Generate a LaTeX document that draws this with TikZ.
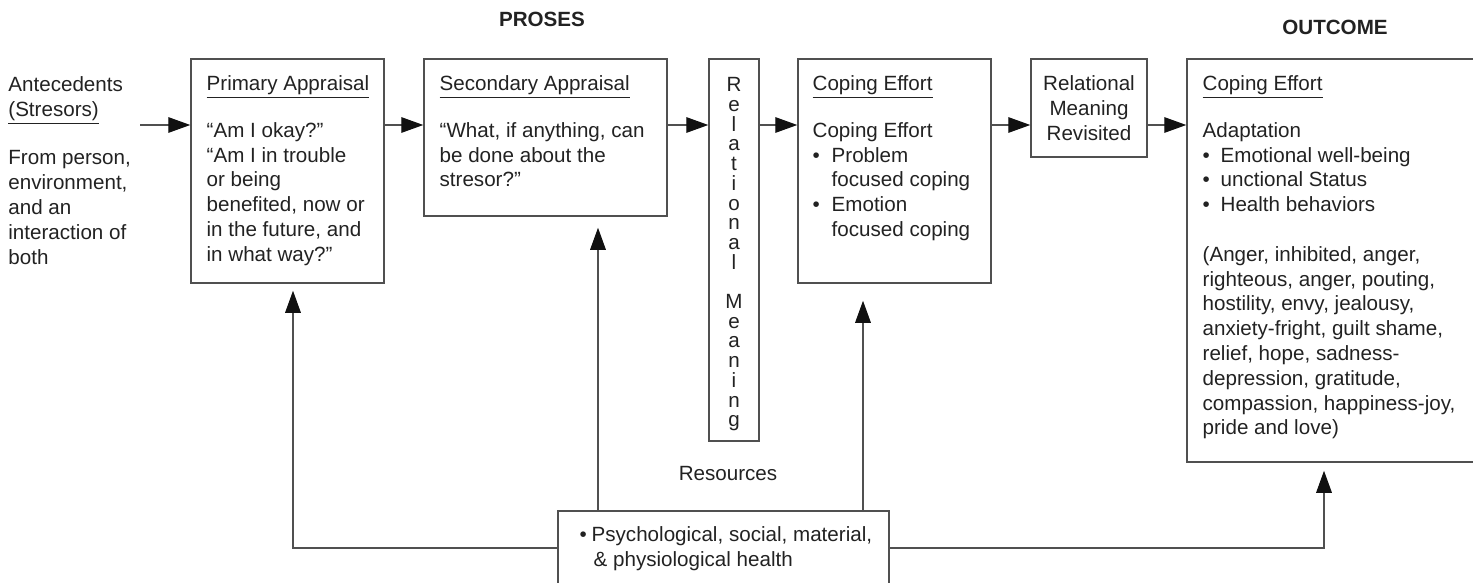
\documentclass[tikz,border=0pt]{standalone}
\usepackage{fontspec}
\setmainfont{Liberation Sans}
\usepackage{tikz}
\usetikzlibrary{arrows.meta, positioning, calc, fit}

\definecolor{inkgray}{HTML}{222222}
\definecolor{linegray}{HTML}{505050}
\definecolor{tipgray}{HTML}{111111}

\newcommand{\bulpt}[1][9pt]{\makebox[#1][l]{\textbullet}}

\begin{document}
\begin{tikzpicture}[x=0.5pt, y=-0.5pt,
    font=\fontsize{10.3}{12.4}\selectfont, text=inkgray,
    box/.style={draw=linegray, line width=0.75pt, inner sep=0pt},
    txt/.style={anchor=north west, inner sep=0pt, align=left},
    conn/.style={draw=linegray, line width=0.6pt, -{Triangle[length=11pt, width=7.8pt, color=tipgray]}},
    head/.style={anchor=base, inner sep=0pt, font=\fontsize{10.3}{12.4}\selectfont\bfseries}]
  \useasboundingbox (0,0) rectangle (1473,583);

  % Headings
  \node[head] (proses) at (542,27) {PROSES};
  \node[head] (outcome) at (1335,35) {OUTCOME};

  % Boxes
  \node[box, fit={(191,59) (384,283)}] (prim) {};
  \node[box, fit={(424,59) (667,216)}] (sec) {};
  \node[box, fit={(709,59) (759,441)}] (relm) {};
  \node[box, fit={(798,59) (991,283)}] (cope) {};
  \node[box, fit={(1031,59) (1147,157)}] (revis) {};
  \node[box, fit={(1187,59) (1478,462)}] (outc) {};
  \node[box, fit={(558,511) (889,585)}] (res) {};

  % Texts
  \node[txt] (ante) at (8,76) {Antecedents\\ \underline{(Stresors)}\\[12pt]
    From person,\\ environment,\\ and an\\ interaction of\\ both};
  \coordinate (antein) at (140,125);

  \node[txt] (primtxt) at ($(prim.north west)+(16,17)$) {\underline{Primary Appraisal}\\[11pt]
    “Am I okay?”\\ “Am I in trouble\\ or being\\ benefited, now or\\ in the future, and\\ in what way?”};
  \node[txt] (sectxt) at ($(sec.north west)+(16,17)$) {\underline{Secondary Appraisal}\\[11pt]
    “What, if anything, can\\ be done about the\\ stresor?”};
  \node[anchor=north, inner sep=0pt, align=center, font=\fontsize{10.3}{9.85}\selectfont] (relmtxt)
    at ($(relm.north)+(0,19)$) {R\\e\\l\\a\\t\\i\\o\\n\\a\\l\\[9.85pt]M\\e\\a\\n\\i\\n\\g};
  \node[txt] (copetxt) at ($(cope.north west)+(15,17)$) {\underline{Coping Effort}\\[11pt]
    Coping Effort\\ \bulpt[9.5pt]Problem\\ \hspace*{9.5pt}focused coping\\
    \bulpt[9.5pt]Emotion\\ \hspace*{9.5pt}focused coping};
  \node[anchor=north, inner sep=0pt, align=center] (revtxt) at ($(revis.north)+(0,17)$)
    {Relational\\ Meaning\\ Revisited};
  \node[txt] (outtxt) at ($(outc.north west)+(16,17)$) {\underline{Coping Effort}\\[11pt]
    Adaptation\\ \bulpt Emotional well-being\\ \bulpt unctional Status\\ \bulpt Health behaviors\\[12.4pt]
    (Anger, inhibited, anger,\\ righteous, anger, pouting,\\ hostility, envy, jealousy,\\
    anxiety-fright, guilt shame,\\ relief, hope, sadness-\\ depression, gratitude,\\
    compassion, happiness-joy,\\ pride and love)};
  \node[anchor=base, inner sep=0pt] (reslbl) at (728,480) {Resources};
  \node[txt] (restxt) at ($(res.north west)+(22,16)$) {\bulpt[6pt]Psychological, social, material,\\
    \hspace*{7pt}\& physiological health};

  % Arrows along the top row
  \draw[conn] (antein) -- (prim.west |- antein);
  \foreach \a/\b in {prim/sec, sec/relm, relm/cope, cope/revis, revis/outc}
    \draw[conn] (\a.east |- antein) -- (\b.west |- antein);

  % Arrows from resources
  \coordinate (primin) at ($(prim.south)+(5.5,0)$);
  \coordinate (secin) at ($(sec.south)+(52.5,0)$);
  \coordinate (copein) at ($(cope.south)+(-31.5,0)$);
  \coordinate (outin) at ($(outc.south)+(-8.5,0)$);
  \draw[conn, shorten >=3.5pt] (res.west) -| (primin);
  \draw[conn, shorten >=5.5pt] (secin |- res.north) -- (secin);
  \draw[conn, shorten >=8.5pt] (copein |- res.north) -- (copein);
  \draw[conn, shorten >=4pt] (res.east) -| (outin);
\end{tikzpicture}
\end{document}
